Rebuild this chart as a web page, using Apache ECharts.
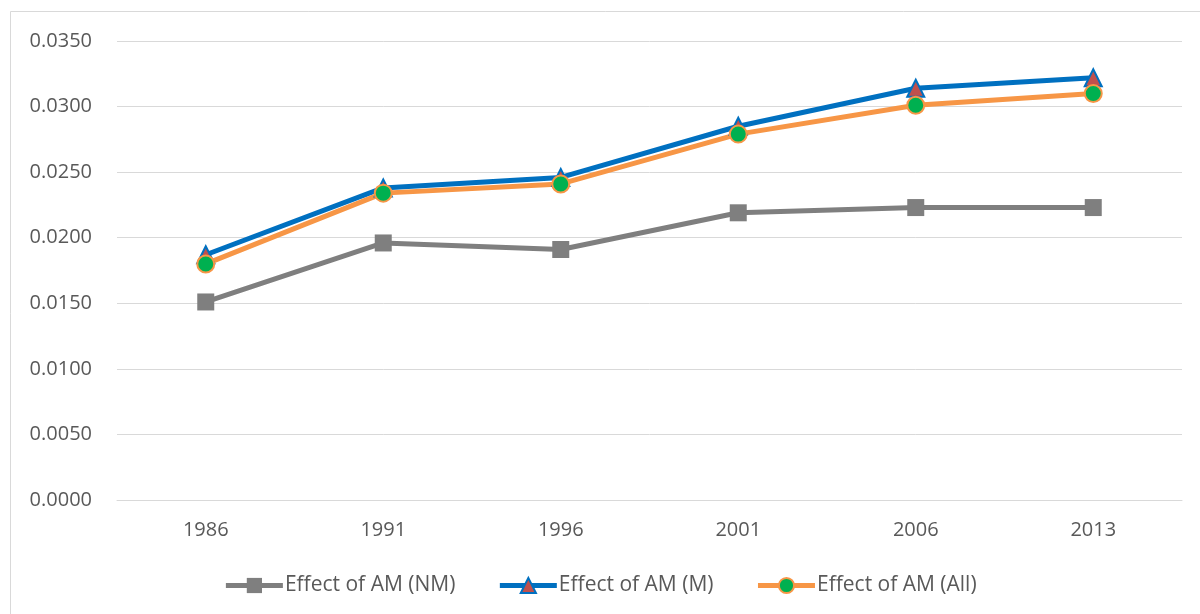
<!DOCTYPE html>
<html><head><meta charset="utf-8">
<script src="https://cdn.jsdelivr.net/npm/echarts@6/dist/echarts.min.js"></script>
<style>html,body{margin:0;padding:0;background:#fff}#c{width:1200px;height:614px}</style>
</head><body><div id="c"></div>
<script>
const categories = ['1986','1991','1996','2001','2006','2013'];
const seriesNames = ['Effect of AM (NM)','Effect of AM (M)','Effect of AM (All)'];
const valuesNM = [0.0151,0.0196,0.0191,0.0219,0.0223,0.0223];
const valuesM = [0.0187,0.0238,0.0246,0.0285,0.0314,0.0322];
const valuesAll = [0.0180,0.0234,0.0241,0.0279,0.0301,0.0310];

const chart = echarts.init(document.getElementById('c'), null, {renderer:'canvas'});
const font = 'Open Sans, Noto Sans, sans-serif';
chart.setOption({
  animation:false,
  backgroundColor:'#fff',
  graphic:[{type:'rect',shape:{x:10.5,y:11.5,width:1300,height:700},style:{fill:'none',stroke:'#d9d9d9',lineWidth:1},silent:true}],
  grid:{left:117,right:18,top:41,bottom:114,containLabel:false},
  legend:{
    bottom:13,left:'center',itemWidth:57,itemHeight:19,itemGap:42,
    lineStyle:{width:5},
    textStyle:{fontFamily:font,fontSize:21,color:'#595959',padding:[0,0,0,-3]},
    data:seriesNames
  },
  xAxis:{type:'category',data:categories,boundaryGap:true,
    axisLine:{lineStyle:{color:'#d9d9d9',width:1}},axisTick:{show:false},
    axisLabel:{fontFamily:font,fontSize:20,color:'#595959',margin:20}},
  yAxis:{type:'value',min:0,max:0.035,interval:0.005,
    axisLine:{show:false},axisTick:{show:false},
    splitLine:{lineStyle:{color:'#d9d9d9',width:1}},
    axisLabel:{fontFamily:font,fontSize:20,color:'#595959',margin:25,formatter:v=>v.toFixed(4)}},
  series:[
    {name:seriesNames[0],type:'line',data:valuesNM,symbol:'rect',symbolSize:17,
     lineStyle:{color:'#7f7f7f',width:5},itemStyle:{color:'#7f7f7f'}},
    {name:seriesNames[1],type:'line',data:valuesM,symbol:'triangle',symbolSize:17,
     lineStyle:{color:'#0070c0',width:5},itemStyle:{color:'#c0504d',borderColor:'#0070c0',borderWidth:2}},
    {name:seriesNames[2],type:'line',data:valuesAll,symbol:'circle',symbolSize:17,
     lineStyle:{color:'#f79646',width:5},itemStyle:{color:'#00b050',borderColor:'#f79646',borderWidth:2}}
  ]
});
</script></body></html>
